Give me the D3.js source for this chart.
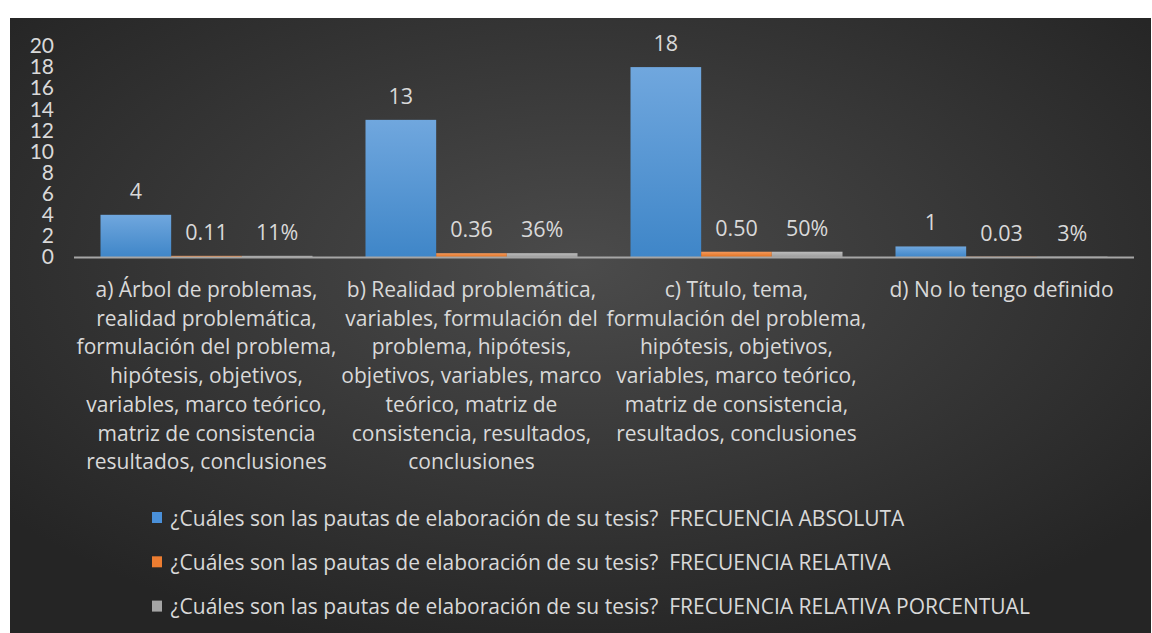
<!DOCTYPE html>
<html>
<head>
<meta charset="utf-8">
<style>
  body { margin: 0; background: #fff; }
  svg text { font-family: "Open Sans", Lato, sans-serif; fill: #d9d9d9; }
</style>
</head>
<body>
<svg width="1152" height="633"></svg>
<script src="https://d3js.org/d3.v7.min.js"></script>
<script>

// categories, wrapped as in the original chart
var categories = [
  ["a) Árbol de problemas,", "realidad problemática,", "formulación del problema,", "hipótesis, objetivos,", "variables, marco teórico,", "matriz de consistencia", "resultados, conclusiones"],
  ["b) Realidad problemática,", "variables, formulación del", "problema, hipótesis,", "objetivos, variables, marco", "teórico, matriz de", "consistencia, resultados,", "conclusiones"],
  ["c) Título, tema,", "formulación del problema,", "hipótesis, objetivos,", "variables, marco teórico,", "matriz de consistencia,", "resultados, conclusiones"],
  ["d) No lo tengo definido"]
];

var absoluta = [4, 13, 18, 1];
var relativa = [0.11, 0.36, 0.50, 0.03];
var porcentual = [0.11, 0.36, 0.50, 0.03];

var seriesNames = [
  "¿Cuáles son las pautas de elaboración de su tesis?\u00a0 FRECUENCIA ABSOLUTA",
  "¿Cuáles son las pautas de elaboración de su tesis?\u00a0 FRECUENCIA RELATIVA",
  "¿Cuáles son las pautas de elaboración de su tesis?\u00a0 FRECUENCIA RELATIVA PORCENTUAL"
];
var yTicks = [0, 2, 4, 6, 8, 10, 12, 14, 16, 18, 20];

var series = [
  { name: seriesNames[0], values: absoluta, fmt: d3.format("d"), fill: "url(#gBlue)", key: "#4a90d9" },
  { name: seriesNames[1], values: relativa, fmt: d3.format(".2f"), fill: "url(#gOrange)", key: "#ed7d31" },
  { name: seriesNames[2], values: porcentual, fmt: d3.format(".0%"), fill: "url(#gGray)", key: "#a5a5a5" }
];

var svg = d3.select("svg");

// background
var defs = svg.append("defs");
var bg = defs.append("radialGradient").attr("id", "bg")
    .attr("cx", "50%").attr("cy", "40%").attr("r", "65%");
bg.append("stop").attr("offset", "0%").attr("stop-color", "#4b4b4b");
bg.append("stop").attr("offset", "100%").attr("stop-color", "#252525");

function vgrad(id, top, bottom) {
  var g = defs.append("linearGradient").attr("id", id)
      .attr("x1", 0).attr("y1", 0).attr("x2", 0).attr("y2", 1);
  g.append("stop").attr("offset", "0%").attr("stop-color", top);
  g.append("stop").attr("offset", "100%").attr("stop-color", bottom);
}
vgrad("gBlue", "#70a7de", "#3f86c8");
vgrad("gOrange", "#f59a5c", "#e2711f");
vgrad("gGray", "#bdbdbd", "#9c9c9c");

svg.append("rect")
    .attr("x", 10).attr("y", 18)
    .attr("width", 1141).attr("height", 615)
    .attr("fill", "url(#bg)");

var x0 = d3.scaleBand()
    .domain(d3.range(categories.length))
    .range([74, 1134]);

var bw = x0.bandwidth() / 3.75;
var x1 = d3.scaleBand()
    .domain(d3.range(series.length))
    .range([0, bw * 3]);

var y = d3.scaleLinear()
    .domain([0, 20])
    .range([257, 46]);

// y axis labels
var yAxis = svg.append("g")
    .attr("transform", "translate(54,0)")
    .call(d3.axisLeft(y).tickValues(yTicks).tickSize(0).tickPadding(0));
yAxis.select(".domain").remove();
yAxis.selectAll("text")
    .attr("font-size", 21)
    .attr("fill", "#d9d9d9")
    .style("font-family", "Lato, 'Open Sans', sans-serif");

// bars
var offset = (x0.bandwidth() - bw * 3) / 2;
series.forEach(function(s, si) {
  var g = svg.append("g");
  g.selectAll("rect")
    .data(s.values)
    .enter().append("rect")
      .attr("x", function(d, i) { return x0(i) + offset + x1(si); })
      .attr("y", function(d) { return y(d); })
      .attr("width", x1.bandwidth())
      .attr("height", function(d) { return y(0) - y(d); })
      .attr("fill", s.fill);
  g.selectAll("text")
    .data(s.values)
    .enter().append("text")
      .attr("x", function(d, i) { return x0(i) + offset + x1(si) + x1.bandwidth() / 2; })
      .attr("y", function(d) { return y(d) - 16; })
      .attr("text-anchor", "middle")
      .attr("font-size", 21.5)
      .text(function(d) { return s.fmt(d); });
});

// baseline
svg.append("line")
    .attr("x1", 74).attr("x2", 1134)
    .attr("y1", y(0) + 0.5).attr("y2", y(0) + 0.5)
    .attr("stroke", "#a6a6a6").attr("stroke-width", 2);

// category labels
categories.forEach(function(lines, i) {
  var t = svg.append("text")
      .attr("text-anchor", "middle")
      .attr("font-size", 21)
      .attr("transform", "translate(" + (x0(i) + x0.bandwidth() / 2) + ",297)");
  t.selectAll("tspan")
    .data(lines)
    .enter().append("tspan")
      .attr("x", 0)
      .attr("dy", function(d, j) { return j ? 28.7 : 0; })
      .text(function(d) { return d; });
});

// legend
var legend = svg.append("g").selectAll("g")
    .data(series)
    .enter().append("g")
      .attr("transform", function(d, i) { return "translate(152," + (517.5 + i * 44.3) + ")"; });
legend.append("rect")
    .attr("x", 0).attr("y", -5.5)
    .attr("width", 10).attr("height", 11)
    .attr("fill", function(d) { return d.key; });
legend.append("text")
    .attr("x", 18.5).attr("y", 8)
    .attr("font-size", 21)
    .text(function(d) { return d.name; });

</script>
</body>
</html>
